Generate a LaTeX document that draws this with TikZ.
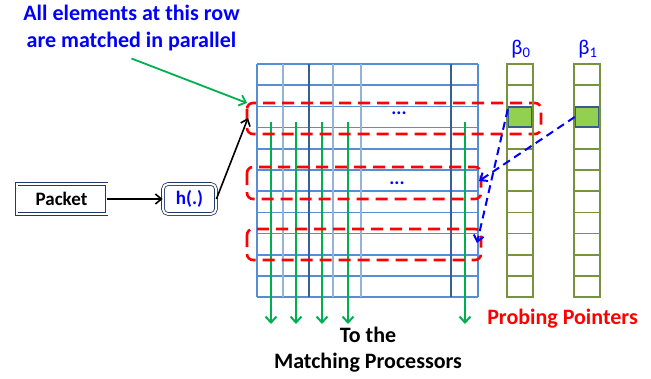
\documentclass[tikz,border=0pt]{standalone}
\usepackage{fontspec}
\setmainfont{Carlito}
\usetikzlibrary{arrows.meta,positioning}
\definecolor{gridblue}{RGB}{85,142,213}
\definecolor{lightgrid}{RGB}{149,179,215}
\definecolor{darkgrid}{RGB}{54,96,146}
\definecolor{flowgreen}{RGB}{0,176,80}
\definecolor{ptrolive}{RGB}{119,147,60}
\definecolor{hitgreen}{RGB}{146,208,80}
\definecolor{hitedge}{RGB}{56,93,138}
\definecolor{boxnavy}{RGB}{31,56,100}
\tikzset{
  gridline/.style={draw=gridblue,line width=1.5pt},
  rowbox/.style={draw=red,line width=2.6pt,dash pattern=on 12pt off 7pt,rounded corners=6pt},
  flow/.style={draw=flowgreen,line width=2pt,-{Straight Barb[length=6pt,width=11pt]}},
  ptr/.style={draw=blue,line width=2pt,dash pattern=on 8pt off 5pt,-{Straight Barb[length=6pt,width=10pt]}},
  plain/.style={draw=black,line width=1.6pt,-{Straight Barb[length=6pt,width=10pt]}},
  ptrcell/.style={draw=ptrolive,line width=1.5pt},
  hit/.style={draw=hitedge,fill=hitgreen,line width=1.5pt,minimum width=23pt,minimum height=20pt,inner sep=0pt},
  beta/.style={text=blue,font=\fontsize{21}{24}\selectfont},
  boxed/.style={draw=boxnavy,double,double distance=2pt,line width=0.8pt,minimum height=30pt,inner sep=2pt},
  big/.style={font=\fontsize{22}{26}\selectfont\bfseries}
}
\begin{document}
\begin{tikzpicture}[x=1pt,y=-1pt,font=\fontsize{19}{23}\selectfont\bfseries]
\useasboundingbox (0,0) rectangle (651,378);
% hash table
\foreach \i in {0,...,11} \draw[gridline] (257,64+21.2*\i) -- (478,64+21.2*\i);
\foreach \x in {257,478} \draw[gridline] (\x,64) -- (\x,297.2);
\foreach \x in {283,333,361} \draw[gridline,draw=lightgrid] (\x,64) -- (\x,297.2);
\foreach \x in {309,451} \draw[gridline,draw=darkgrid] (\x,64) -- (\x,297.2);
\node[text=blue] (dots1) at (399,113) {...};
\node[text=blue] (dots2) at (397,183) {...};
% outputs
\foreach \x in {271,296,322,348,465} \draw[flow] (\x,122) -- (\x,324);
% probed rows
\draw[rowbox] (247,103) rectangle (541,134);
\draw[rowbox] (247,167) rectangle (481,199);
\draw[rowbox] (247,229) rectangle (481,260);
\coordinate (row1) at (247,103);
\coordinate (rowin) at (248,118);
\coordinate (in2) at (479,181);
\coordinate (in3) at (477,243);
% probing pointers
\foreach \x/\n in {507/0,574/1} {
  \foreach \i in {0,...,10} \draw[ptrcell] (\x,64+21.2*\i) rectangle ++(26,21.2);
  \node[beta] (beta\n) at (\x+14,49) {β\textsubscript{\n}};
}
\node[hit] (hit0) at (520,117) {};
\node[hit] (hit1) at (587,117) {};
\draw[ptr] ([yshift=-3pt]hit0.north west) -- (in3);
\draw[ptr] (hit1.west) -- (in2);
% input side
\node[boxed,minimum width=90pt] (packet) at (61.5,199) {Packet};
\node[boxed,rounded corners=5pt,minimum width=53pt,text=blue] (hash) at (189.5,199) {h(.)};
\draw[plain] (packet) -- (hash);
\draw[plain] (hash.east) -- (rowin);
% labels
\node[big,text=blue,align=center,font=\fontsize{22}{27}\selectfont\bfseries] (note) at (131.5,28) {All elements at this row\\are matched in parallel};
\draw[flow,line width=1.8pt] ([yshift=-4pt]note.south) -- (row1);
\node[big,align=center] (out) at (368,350) {To the\\Matching Processors};
\node[big,text=red] (probe) at (562.5,319) {Probing Pointers};
\end{tikzpicture}
\end{document}
